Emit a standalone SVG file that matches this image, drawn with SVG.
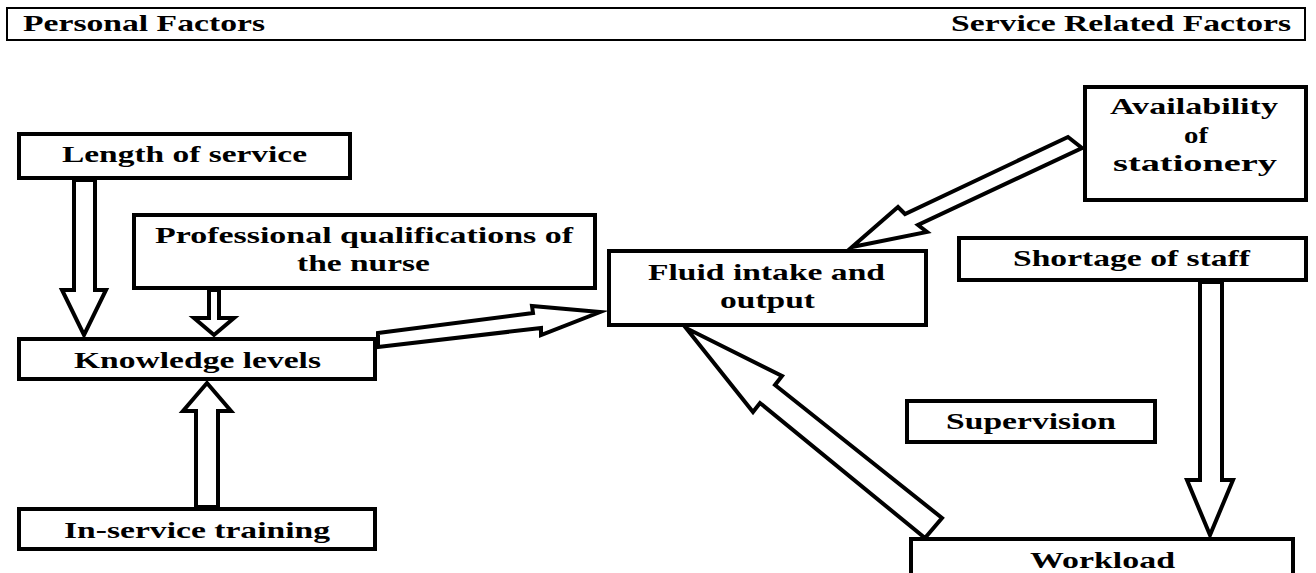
<svg xmlns="http://www.w3.org/2000/svg" width="1316" height="573" viewBox="0 0 1316 573">
<style>
  .box{fill:#fff;stroke:#000;stroke-width:4}
  .hdr{fill:#fff;stroke:#000;stroke-width:2}
  .arr{fill:#fff;stroke:#000;stroke-width:4;stroke-linejoin:miter;stroke-miterlimit:10}
  text{font-family:"Liberation Serif","Times New Roman",serif;font-weight:bold;font-size:23px;fill:#000}
  .c{text-anchor:middle}
</style>
<rect width="1316" height="573" fill="#fff"/>
<g id="header">
  <rect class="hdr" x="7" y="8" width="1298" height="32"/>
  <text x="23" y="31" textLength="242" lengthAdjust="spacingAndGlyphs">Personal Factors</text>
  <text x="951" y="31" textLength="340" lengthAdjust="spacingAndGlyphs">Service Related Factors</text>
</g>
<g id="connectors">
  <polygon class="arr" points="74,180 74,290 62,290 84,335 106,290 95,290 95,180"/>
  <polygon class="arr" points="209,290 209,318 194,318 214,335 234,318 219,318 219,290"/>
  <polygon class="arr" points="196,507 196,411 183,411 207,383 231,411 218,411 218,507"/>
  <polygon class="arr" points="378,333 533,313 532,306 600,312 541,335 541,328 378,347"/>
  <polygon class="arr" points="1068,137 905,214 898,207 852,247 927,232 918,225 1082,148"/>
  <polygon class="arr" points="686,328 753,412 760,403 925,538 942,518 775,385 782,376"/>
  <polygon class="arr" points="1200,282 1200,480 1187,480 1210,535 1233,480 1222,480 1222,282"/>
</g>
<g id="length">
  <rect class="box" x="19" y="134" width="331" height="44"/>
  <text class="c" x="184.5" y="162" textLength="245" lengthAdjust="spacingAndGlyphs">Length of service</text>
</g>
<g id="professional">
  <rect class="box" x="134" y="215" width="461" height="73"/>
  <text class="c" x="364" y="243" textLength="418" lengthAdjust="spacingAndGlyphs">Professional qualifications of</text>
  <text class="c" x="363.5" y="271" textLength="133" lengthAdjust="spacingAndGlyphs">the nurse</text>
</g>
<g id="knowledge">
  <rect class="box" x="19" y="339" width="356" height="40"/>
  <text class="c" x="197.5" y="368" textLength="247" lengthAdjust="spacingAndGlyphs">Knowledge levels</text>
</g>
<g id="inservice">
  <rect class="box" x="19" y="509" width="356" height="40"/>
  <text class="c" x="197" y="538" textLength="266" lengthAdjust="spacingAndGlyphs">In-service training</text>
</g>
<g id="fluid">
  <rect class="box" x="609" y="251" width="317" height="74"/>
  <text class="c" x="766.5" y="280" textLength="237" lengthAdjust="spacingAndGlyphs">Fluid intake and</text>
  <text class="c" x="767.5" y="308" textLength="95" lengthAdjust="spacingAndGlyphs">output</text>
</g>
<g id="availability">
  <rect class="box" x="1085" y="87" width="221" height="113"/>
  <text class="c" x="1194" y="114" textLength="168" lengthAdjust="spacingAndGlyphs">Availability</text>
  <text class="c" x="1196" y="143" textLength="24" lengthAdjust="spacingAndGlyphs">of</text>
  <text class="c" x="1195" y="171" textLength="164" lengthAdjust="spacingAndGlyphs">stationery</text>
</g>
<g id="shortage">
  <rect class="box" x="959" y="238" width="347" height="42"/>
  <text class="c" x="1131.5" y="266" textLength="237" lengthAdjust="spacingAndGlyphs">Shortage of staff</text>
</g>
<g id="supervision">
  <rect class="box" x="907" y="401" width="248" height="41"/>
  <text class="c" x="1031" y="429" textLength="170" lengthAdjust="spacingAndGlyphs">Supervision</text>
</g>
<g id="workload">
  <rect class="box" x="911" y="539" width="382" height="50"/>
  <text class="c" x="1102.5" y="568" textLength="145" lengthAdjust="spacingAndGlyphs">Workload</text>
</g>
</svg>
